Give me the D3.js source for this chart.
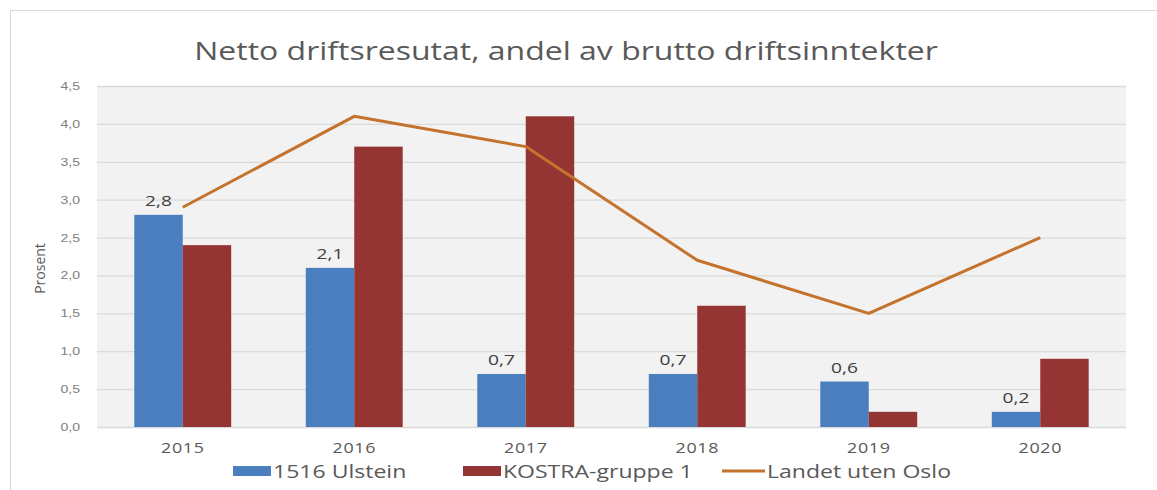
<!DOCTYPE html>
<html>
<head>
<meta charset="utf-8">
<script src="https://cdn.jsdelivr.net/npm/d3@7"></script>
<style>
  body { margin: 0; background: #fff; }
  svg { display: block; font-family: "Open Sans", sans-serif; }
</style>
</head>
<body>
<svg id="chart"></svg>
<script>
const years = ["2015", "2016", "2017", "2018", "2019", "2020"];
const ulstein = [2.8, 2.1, 0.7, 0.7, 0.6, 0.2];
const kostra = [2.4, 3.7, 4.1, 1.6, 0.2, 0.9];
const landet = [2.9, 4.1, 3.7, 2.2, 1.5, 2.5];
const yTicks = [0, 0.5, 1, 1.5, 2, 2.5, 3, 3.5, 4, 4.5];
const seriesNames = ["1516 Ulstein", "KOSTRA-gruppe 1", "Landet uten Oslo"];

const width = 1157;
const height = 490;
const plot = { left: 97, right: 1126, top: 86, bottom: 427 };
const stretch = 1.28; // the source picture is widened, so text is too

const blue = "#4a7ebf";
const red = "#953533";
const orange = "#c4722c";
const textGray = "#595959";

const svg = d3.select("#chart")
    .attr("width", width)
    .attr("height", height);

// chart frame
svg.append("path")
    .attr("d", `M10.5,${height} V10.5 H${width}`)
    .attr("fill", "none")
    .attr("stroke", "#d9d9d9");

const x0 = d3.scaleBand()
    .domain(years)
    .range([plot.left, plot.right])
    .paddingInner(0.435)
    .paddingOuter(0.2175);

const x1 = d3.scaleBand()
    .domain(["ulstein", "kostra"])
    .range([0, x0.bandwidth()]);

const y = d3.scaleLinear()
    .domain([0, 4.5])
    .range([plot.bottom, plot.top]);

const comma = v => d3.format(".1f")(v).replace(".", ",");
const at = (x, yy) => `translate(${x},${yy}) scale(${stretch},1)`;

// plot background
svg.append("rect")
    .attr("x", plot.left)
    .attr("y", plot.top)
    .attr("width", plot.right - plot.left)
    .attr("height", plot.bottom - plot.top)
    .attr("fill", "#f2f2f2");

// gridlines + y labels
const yAxis = d3.axisLeft(y)
    .tickValues(yTicks)
    .tickSize(-(plot.right - plot.left))
    .tickPadding(0)
    .tickFormat(comma);

const gy = svg.append("g")
    .attr("transform", `translate(${plot.left},0)`)
    .call(yAxis);
gy.select(".domain").remove();
gy.selectAll(".tick line").attr("stroke", "#dadada").attr("stroke-width", 1.3);
gy.selectAll(".tick text")
    .attr("x", null)
    .attr("transform", at(-17, 0))
    .attr("fill", "#7f7f7f")
    .style("font-size", "11px");

svg.append("text")
    .attr("transform", `translate(45,${(plot.top + plot.bottom) / 2 + 12}) rotate(-90)`)
    .attr("text-anchor", "middle")
    .attr("fill", textGray)
    .style("font-size", "14px")
    .text("Prosent");

// bars
const groups = svg.append("g")
    .selectAll("g")
    .data(years)
    .join("g")
    .attr("transform", d => `translate(${x0(d)},0)`);

groups.append("rect")
    .attr("x", x1("ulstein"))
    .attr("y", (d, i) => y(ulstein[i]))
    .attr("width", x1.bandwidth())
    .attr("height", (d, i) => y(0) - y(ulstein[i]))
    .attr("fill", blue);

groups.append("rect")
    .attr("x", x1("kostra"))
    .attr("y", (d, i) => y(kostra[i]))
    .attr("width", x1.bandwidth())
    .attr("height", (d, i) => y(0) - y(kostra[i]))
    .attr("fill", red);

groups.append("text")
    .attr("transform", (d, i) => at(x1("ulstein") + x1.bandwidth() / 2, y(ulstein[i]) - 9))
    .attr("text-anchor", "middle")
    .attr("fill", "#404040")
    .style("font-size", "15px")
    .text((d, i) => comma(ulstein[i]));

// line
const line = d3.line()
    .x((d, i) => x0(years[i]) + x0.bandwidth() / 2)
    .y(d => y(d));

svg.append("path")
    .datum(landet)
    .attr("d", line)
    .attr("fill", "none")
    .attr("stroke", orange)
    .attr("stroke-width", 3)
    .attr("stroke-linejoin", "round");

// x labels
svg.append("g")
    .selectAll("text")
    .data(years)
    .join("text")
    .attr("transform", d => at(x0(d) + x0.bandwidth() / 2, 453))
    .attr("text-anchor", "middle")
    .attr("fill", textGray)
    .style("font-size", "14px")
    .style("letter-spacing", "0.5px")
    .text(d => d);

// title
svg.append("text")
    .attr("transform", at(566, 60))
    .attr("text-anchor", "middle")
    .attr("fill", textGray)
    .style("font-size", "25px")
    .text("Netto driftsresutat, andel av brutto driftsinntekter");

// legend
const legendX = [233, 463, 722];
const legend = svg.append("g")
    .selectAll("g")
    .data(seriesNames)
    .join("g")
    .attr("transform", (d, i) => `translate(${legendX[i]},471)`);

legend.filter((d, i) => i < 2)
    .append("rect")
    .attr("x", 0)
    .attr("y", -5)
    .attr("width", 38)
    .attr("height", 10)
    .attr("fill", (d, i) => i === 0 ? blue : red);

legend.filter((d, i) => i === 2)
    .append("line")
    .attr("x1", 0)
    .attr("x2", 43)
    .attr("stroke", orange)
    .attr("stroke-width", 3);

legend.append("text")
    .attr("transform", (d, i) => at(i === 2 ? 45 : 40, 7))
    .attr("fill", textGray)
    .style("font-size", "18px")
    .text(d => d);
</script>
</body>
</html>
